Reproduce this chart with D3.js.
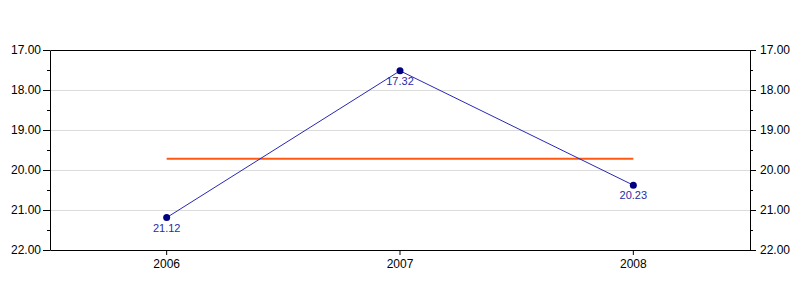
<!DOCTYPE html>
<html>
<head>
<meta charset="utf-8">
<script src="https://cdn.jsdelivr.net/npm/d3@7"></script>
<style>
  body { margin: 0; background: #fff; }
  text { font-family: "Liberation Sans", Arial, sans-serif; }
</style>
</head>
<body>
<svg id="chart" width="800" height="300"></svg>
<script>
// data
var years = ["2006", "2007", "2008"];
var plotted = [21.19, 17.52, 20.38];      // where the markers sit
var pointLabels = ["21.12", "17.32", "20.23"]; // what the labels say
var refLine = 19.72;
var majorTicks = [17, 18, 19, 20, 21, 22];
var minorTicks = [17.5, 18.5, 19.5, 20.5, 21.5];

var width = 800, height = 300,
    margin = {top: 50, right: 50, bottom: 50, left: 50},
    innerWidth = width - margin.left - margin.right,
    innerHeight = height - margin.top - margin.bottom;

var svg = d3.select("#chart");
var g = svg.append("g")
    .attr("transform", "translate(" + margin.left + "," + margin.top + ")");

var xScale = d3.scaleBand().domain(years).range([0, innerWidth]);
var yScale = d3.scaleLinear().domain([17, 22]).range([0, innerHeight]);

function X(d, i) { return xScale(years[i]) + xScale.bandwidth() / 2; }

// grid (half pixel so the lines stay crisp)
g.append("g").selectAll("line")
  .data(majorTicks.slice(1, -1))
  .enter().append("line")
    .attr("x1", 0).attr("x2", innerWidth)
    .attr("y1", function(d) { return yScale(d) + 0.5; })
    .attr("y2", function(d) { return yScale(d) + 0.5; })
    .attr("stroke", "#dcdcdc");

// minor ticks, no labels
function stripMinor(a) {
  a.select(".domain").remove();
  a.selectAll("text").remove();
}
g.append("g")
    .call(d3.axisLeft(yScale).tickValues(minorTicks).tickSize(3))
    .call(stripMinor);
g.append("g")
    .attr("transform", "translate(" + innerWidth + ",0)")
    .call(d3.axisRight(yScale).tickValues(minorTicks).tickSize(3))
    .call(stripMinor);

var fmt = d3.format(".2f");
g.append("g")
    .call(d3.axisLeft(yScale).tickValues(majorTicks).tickSize(7).tickSizeOuter(0).tickPadding(2).tickFormat(fmt));
g.append("g")
    .attr("transform", "translate(" + innerWidth + ",0)")
    .call(d3.axisRight(yScale).tickValues(majorTicks).tickSize(6).tickSizeOuter(0).tickPadding(4).tickFormat(fmt));
g.append("g")
    .attr("transform", "translate(0," + innerHeight + ")")
    .call(d3.axisBottom(xScale).tickSize(5).tickSizeOuter(0).tickPadding(4));

// top border
g.append("line")
    .attr("x1", 0.5).attr("x2", innerWidth + 0.5)
    .attr("y1", 0.5).attr("y2", 0.5)
    .attr("stroke", "#000");

g.selectAll(".tick text")
    .attr("font-size", "12px")
    .attr("fill", "#000")
    .attr("font-family", "'Liberation Sans', Arial, sans-serif");
g.selectAll(".domain, .tick line").attr("stroke", "#000");

// reference line
g.append("line")
    .attr("x1", X(null, 0)).attr("x2", X(null, years.length - 1))
    .attr("y1", yScale(refLine)).attr("y2", yScale(refLine))
    .attr("stroke", "#ff5a14")
    .attr("stroke-width", 2);

// series
var line = d3.line()
    .x(function(d, i) { return X(d, i); })
    .y(function(d) { return yScale(d); });

g.append("path")
    .datum(plotted)
    .attr("d", line)
    .attr("fill", "none")
    .attr("stroke", "#2828b4")
    .attr("stroke-width", 1);

g.selectAll(".pt")
  .data(plotted)
  .enter().append("circle")
    .attr("class", "pt")
    .attr("cx", X)
    .attr("cy", yScale)
    .attr("r", 3.5)
    .attr("fill", "#000080");

g.selectAll(".lbl")
  .data(plotted)
  .enter().append("text")
    .attr("class", "lbl")
    .attr("x", X)
    .attr("y", function(d) { return yScale(d) + 14; })
    .attr("text-anchor", "middle")
    .attr("font-size", "11px")
    .attr("fill", "#2a2aa8")
    .text(function(d, i) { return pointLabels[i]; });
</script>
</body>
</html>
